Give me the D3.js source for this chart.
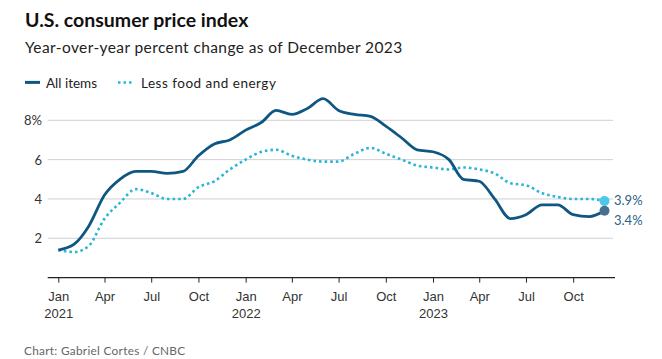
<!DOCTYPE html>
<html><head><meta charset="utf-8">
<script src="https://cdn.jsdelivr.net/npm/d3@7"></script>
<style>
body{margin:0;background:#fff;}
svg{display:block;font-family:Lato,"Open Sans",sans-serif;}
</style></head>
<body><svg id="c" width="662" height="359"></svg>
<script>
const months = d3.range(36).map(i => new Date(2021, i, 1));
const allItems = [1.4,1.7,2.6,4.2,5.0,5.4,5.4,5.3,5.4,6.2,6.8,7.0,
                  7.5,7.9,8.5,8.3,8.6,9.1,8.5,8.3,8.2,7.7,7.1,6.5,
                  6.4,6.0,5.0,4.9,4.0,3.0,3.2,3.7,3.7,3.2,3.1,3.4];
const core = [1.4,1.3,1.6,3.0,3.8,4.5,4.3,4.0,4.0,4.6,4.9,5.5,
              6.0,6.4,6.5,6.2,6.0,5.9,5.9,6.3,6.6,6.3,6.0,5.7,
              5.6,5.5,5.6,5.5,5.3,4.8,4.7,4.3,4.1,4.0,4.0,3.9];
const yTicks = [2,4,6,8];
const xTickDates = d3.range(0,36,3).map(i => new Date(2021, i, 1));
const monthNames = ["Jan","Feb","Mar","Apr","May","Jun","Jul","Aug","Sep","Oct","Nov","Dec"];

const svg = d3.select("#c");
const x = d3.scaleTime().domain([months[0], months[35]]).range([58.3, 604.5]);
const y = d3.scaleLinear().domain([0, 8]).range([277.6, 120.3]);

// title
svg.append("text").attr("x",25).attr("y",27).attr("font-size",19.5).attr("font-weight",700).attr("fill","#111").text("U.S. consumer price index");
svg.append("text").attr("x",25).attr("y",52.5).attr("font-size",15.5).attr("letter-spacing",0.4).attr("fill","#222").text("Year-over-year percent change as of December 2023");

// legend
const lg = svg.append("g");
lg.append("line").attr("x1",25).attr("x2",40).attr("y1",82.4).attr("y2",82.4).attr("stroke","#0f5783").attr("stroke-width",3);
lg.append("text").attr("x",46).attr("y",87.5).attr("font-size",13.5).attr("fill","#222").text("All items");
lg.append("line").attr("x1",118).attr("x2",132).attr("y1",82.4).attr("y2",82.4).attr("stroke","#2bb5d8").attr("stroke-width",2.5).attr("stroke-dasharray","2.5,3");
lg.append("text").attr("x",141).attr("y",87.5).attr("font-size",13.5).attr("letter-spacing",0.5).attr("fill","#222").text("Less food and energy");

// grid
svg.append("g").selectAll("line").data(yTicks).join("line")
  .attr("x1",47.7).attr("x2",613).attr("y1",d=>y(d)).attr("y2",d=>y(d))
  .attr("stroke","#d0d0d0").attr("stroke-width",1);
svg.append("g").selectAll("text").data(yTicks).join("text")
  .attr("x",42).attr("y",d=>y(d)+5).attr("text-anchor","end").attr("font-size",13).attr("fill","#333")
  .text(d => d===8 ? d+"%" : d);

// x axis
const xAxis = d3.axisBottom(x).tickValues(xTickDates).tickSize(5).tickFormat("");
const gx = svg.append("g").attr("transform",`translate(0,${y(0)})`).call(xAxis);
gx.select(".domain").remove();
gx.selectAll(".tick line").attr("stroke","#222");
gx.append("line").attr("x1",47.7).attr("x2",615).attr("stroke","#222").attr("stroke-width",1.2);
gx.selectAll(".tick").each(function(d){
  const t = d3.select(this);
  t.append("text").attr("y",23.5).attr("text-anchor","middle").attr("font-size",13).attr("fill","#333").text(monthNames[d.getMonth()]);
  if(d.getMonth()===0) t.append("text").attr("y",40).attr("text-anchor","middle").attr("font-size",13).attr("fill","#333").text(d.getFullYear());
});

// lines
const line = d3.line().x((d,i)=>x(months[i])).y(d=>y(d)).curve(d3.curveMonotoneX);
svg.append("path").datum(core).attr("d",line).attr("fill","none").attr("stroke","#2bb5d8").attr("stroke-width",2.6).attr("stroke-dasharray","2.6,3");
svg.append("path").datum(allItems).attr("d",line).attr("fill","none").attr("stroke","#0f5783").attr("stroke-width",2.8).attr("stroke-linejoin","round");

// end dots
svg.append("circle").attr("cx",x(months[35])).attr("cy",y(core[35])).attr("r",5).attr("fill","#4cc8ea");
svg.append("circle").attr("cx",x(months[35])).attr("cy",y(allItems[35])).attr("r",5).attr("fill","#46708f");
svg.append("text").attr("x",614).attr("y",y(core[35])+4.5).attr("font-size",13).attr("fill","#2a6285").text(core[35]+"%");
svg.append("text").attr("x",614).attr("y",y(allItems[35])+14).attr("font-size",13).attr("fill","#2a6285").text(allItems[35]+"%");

// footer
svg.append("text").attr("x",24).attr("y",355).attr("font-size",11.8).attr("letter-spacing",0.3).attr("fill","#666").text("Chart: Gabriel Cortes / CNBC");
</script></body></html>
